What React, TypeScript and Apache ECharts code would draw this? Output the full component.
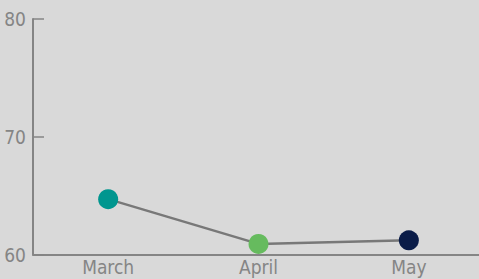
import React, { useEffect, useRef } from "react";
import * as echarts from "echarts";

const categories = ["March", "April", "May"];
const values = [64.7, 60.9, 61.2];
const pointColors = ["#00968f", "#66bb5e", "#0a1c48"];
const yMin = 60;
const yMax = 80;
const yInterval = 10;

const FONT = "'DejaVu Sans Condensed', 'Liberation Sans Narrow', sans-serif";
const AXIS_COLOR = "#858585";
const TEXT_COLOR = "#858585";

export default function App() {
  const ref = useRef<HTMLDivElement>(null);
  useEffect(() => {
    if (!ref.current) return;
    const chart = echarts.init(ref.current, null, { renderer: "svg" });
    chart.setOption({
      animation: false,
      backgroundColor: "#d9d9d9",
      grid: { left: 33, right: 0, top: 19, bottom: 24.5, containLabel: false },
      xAxis: {
        type: "category",
        data: categories,
        boundaryGap: true,
        axisLine: { lineStyle: { color: AXIS_COLOR, width: 2 } },
        axisTick: { inside: true, length: 6, lineStyle: { color: AXIS_COLOR, width: 1.5 } },
        axisLabel: {
          color: TEXT_COLOR,
          fontFamily: FONT,
          fontSize: 19,
          margin: 3,
          lineHeight: 19,
        },
        splitLine: { show: false },
      },
      yAxis: {
        type: "value",
        min: yMin,
        max: yMax,
        interval: yInterval,
        axisLine: { show: true, lineStyle: { color: AXIS_COLOR, width: 2 } },
        axisTick: { show: true, inside: true, length: 11, lineStyle: { color: AXIS_COLOR, width: 1.5 } },
        axisLabel: {
          color: TEXT_COLOR,
          fontFamily: FONT,
          fontSize: 19,
          margin: 7,
        },
        splitLine: { show: false },
      },
      series: [
        {
          type: "line",
          data: values.map((v, i) => ({ value: v, itemStyle: { color: pointColors[i] } })),
          symbol: "circle",
          symbolSize: 20,
          lineStyle: { color: "#787878", width: 2.5 },
          itemStyle: { borderWidth: 0 },
        },
      ],
    });
    return () => chart.dispose();
  }, []);
  return (
    <div
      style={{ position: "absolute", left: 0, top: 0, width: 479, height: 279, overflow: "hidden", background: "#d9d9d9" }}
    >
      <div ref={ref} style={{ width: 484, height: 279 }} />
    </div>
  );
}
